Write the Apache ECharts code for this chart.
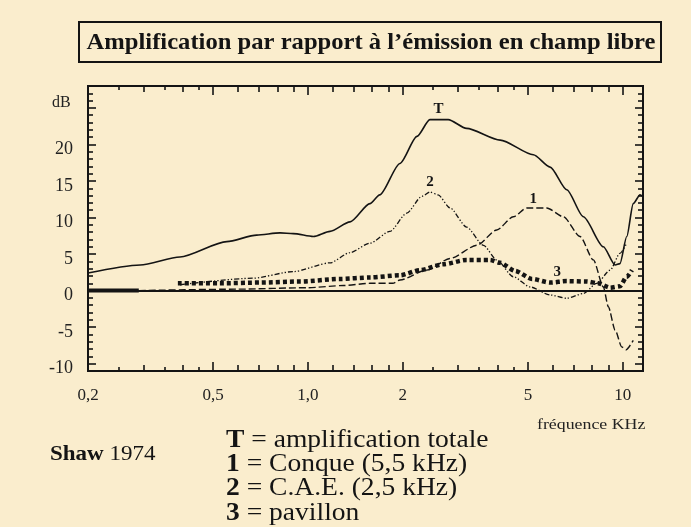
<!DOCTYPE html>
<html>
<head>
<meta charset="utf-8">
<script src="https://cdn.jsdelivr.net/npm/echarts@6/dist/echarts.min.js"></script>
<style>
  html, body { margin: 0; padding: 0; background: #faedcd; }
  #chart { width: 691px; height: 527px; }
</style>
</head>
<body>
<div id="chart"></div>
<script>
// Frequencies in kHz, gains in dB (Shaw 1974)
const freqT = [0.2, 0.293, 0.392, 0.552, 0.687, 0.815, 0.898, 1.04, 1.175, 1.36, 1.574, 1.69, 1.96, 2.22, 2.44, 2.79, 3.19, 4.08, 5.2, 5.88, 6.64, 7.5, 8.68, 9.46, 9.8, 10.3, 10.8, 11.35, 11.58];
const gainT = [2.4, 3.5, 4.6, 6.7, 7.6, 7.9, 7.8, 7.4, 8.1, 9.4, 11.9, 13.1, 17.4, 21.1, 23.4, 23.4, 22.2, 20.6, 18.6, 16.9, 13.8, 10.1, 6.0, 3.5, 3.7, 7.4, 11.9, 13.1, 12.9];

const freq1 = [0.29, 0.6, 1.0, 1.3, 1.574, 1.86, 1.96, 2.38, 2.83, 3.44, 3.98, 4.49, 4.95, 5.74, 6.48, 7.32, 8.07, 8.68, 9.0, 9.46, 9.93, 10.25, 10.8];
const gain1 = [0, 0.2, 0.4, 0.7, 1.0, 1.0, 1.45, 2.8, 4.4, 6.2, 8.3, 10.1, 11.3, 11.3, 10.1, 7.4, 4.2, 0.5, -2.2, -5.4, -7.7, -8.1, -6.8];

// low-frequency stretch lying on the 0 dB line
const freqLow = [0.2, 0.29];
const gainLow = [0, 0];

const freq2 = [0.392, 0.669, 0.896, 1.175, 1.36, 1.574, 1.82, 2.06, 2.30, 2.44, 2.59, 2.83, 3.19, 3.61, 3.98, 4.49, 5.08, 5.88, 6.64, 7.5, 8.27, 9.12, 9.8, 10.3];
const gain2 = [0.8, 1.7, 2.6, 3.8, 5.2, 6.5, 8.1, 10.6, 12.9, 13.5, 13.1, 11.3, 8.7, 6.2, 4.2, 1.9, 0.5, -0.6, -1.05, -0.4, 1.0, 2.8, 5.1, 6.5];

const freq3 = [0.386, 0.525, 0.704, 0.944, 1.264, 1.574, 1.96, 2.27, 2.69, 3.19, 3.79, 4.08, 4.55, 5.15, 5.88, 6.64, 7.69, 8.35, 9.12, 9.8, 10.3, 10.7];
const gain3 = [1.0, 1.0, 1.1, 1.25, 1.6, 1.8, 2.1, 2.8, 3.6, 4.2, 4.2, 3.8, 2.7, 1.6, 1.1, 1.3, 1.25, 1.0, 0.4, 0.6, 1.9, 2.8];

// Axis ticks and labels
const xLabelValues = [0.2, 0.5, 1, 2, 5, 10];
const xMajorTicks = [0.5, 1, 2, 5, 10];
const xMidTicks = [0.3, 0.4, 0.6, 0.7, 0.8, 0.9, 1.2, 1.4, 1.6, 1.8, 3, 4, 6, 7, 8, 9];
const xMinorTicks = [0.25, 0.35, 0.45, 2.5, 3.5, 4.5];
const yLabelValues = [-10, -5, 0, 5, 10, 15, 20];
const yMajorTicks = [-10, -5, 0, 5, 10, 15, 20, 25];
const yMinorTicks = [];
for (let v = -10; v <= 27; v++) if (v % 5 !== 0) yMinorTicks.push(v);

const X_MIN = 0.2, X_MAX = 11.6, Y_MIN = -11, Y_MAX = 28;
const INK = '#141414';
const SERIF = '"Liberation Serif", "DejaVu Serif", serif';

const pairs = (xs, ys) => xs.map((x, i) => [x, ys[i]]);

function xAxisDef(position, ticks, len, withLabels) {
  return {
    type: 'log', logBase: 10, min: X_MIN, max: X_MAX, position,
    axisLine: { show: true, onZero: false, lineStyle: { color: INK, width: 2 } },
    axisTick: { show: true, inside: true, length: len, customValues: ticks,
                lineStyle: { color: INK, width: 1.6 } },
    axisLabel: withLabels ? {
      show: true, customValues: xLabelValues, margin: 16,
      fontFamily: SERIF, fontSize: 17, color: '#222',
      formatter: v => (v === 1 ? '1,0' : String(v).replace('.', ','))
    } : { show: false },
    splitLine: { show: false }, minorTick: { show: false }
  };
}

function yAxisDef(position, ticks, len, withLabels) {
  return {
    type: 'value', min: Y_MIN, max: Y_MAX, position,
    axisLine: { show: true, onZero: false, lineStyle: { color: INK, width: 2 } },
    axisTick: { show: true, inside: true, length: len, customValues: ticks,
                lineStyle: { color: INK, width: 1.6 } },
    axisLabel: withLabels ? {
      show: true, customValues: yLabelValues, margin: 15,
      formatter: v => '{n|' + v + '}',
      rich: { n: { fontFamily: SERIF, fontSize: 18, color: '#222', padding: [10, 0, 0, 0] } }
    } : { show: false },
    splitLine: { show: false }
  };
}

function curveLabel(text, coord, dy) {
  return {
    silent: true,
    data: [{ coord, symbol: 'circle', symbolSize: 2,
             itemStyle: { color: 'rgba(0,0,0,0)' },
             label: { show: true, position: 'inside', formatter: text, offset: [0, dy],
                      fontFamily: SERIF, fontWeight: 'bold', fontSize: 15, color: INK } }]
  };
}

// text stretched horizontally from its left anchor point
function wideText(x, y, text, size, stretch, extra) {
  return {
    type: 'text', x, y, scaleX: stretch,
    style: Object.assign({
      text, font: size + 'px ' + SERIF, fill: INK, verticalAlign: 'middle',
      rich: { b: { fontWeight: 'bold', fontSize: size, fontFamily: SERIF } }
    }, extra || {})
  };
}

const chart = echarts.init(document.getElementById('chart'), null, { renderer: 'canvas' });

chart.setOption({
  backgroundColor: '#faedcd',
  animation: false,
  grid: { left: 88, top: 86, width: 555, height: 285, containLabel: false },
  xAxis: [
    xAxisDef('bottom', xMajorTicks, 9, true),
    xAxisDef('bottom', xMidTicks, 6, false),
    xAxisDef('bottom', xMinorTicks, 4, false),
    xAxisDef('top', xMajorTicks, 9, false),
    xAxisDef('top', xMidTicks, 6, false),
    xAxisDef('top', xMinorTicks, 4, false)
  ],
  yAxis: [
    yAxisDef('left', yMajorTicks, 8, true),
    yAxisDef('left', yMinorTicks, 5, false),
    yAxisDef('right', yMajorTicks, 8, false),
    yAxisDef('right', yMinorTicks, 5, false)
  ],
  series: [
    {
      name: 'T', type: 'line', data: pairs(freqT, gainT),
      showSymbol: false, smooth: 0.25, smoothMonotone: 'x',
      lineStyle: { color: INK, width: 1.6 },
      markLine: {
        silent: true, symbol: 'none', label: { show: false },
        lineStyle: { color: INK, width: 2, type: 'solid' },
        data: [{ yAxis: 0 }]
      },
      markPoint: curveLabel('T', [2.6, 23.4], -10)
    },
    {
      name: '1', type: 'line', data: pairs(freq1, gain1),
      showSymbol: false, smooth: 0.25, smoothMonotone: 'x',
      lineStyle: { color: INK, width: 1.4, type: [7, 3] },
      markPoint: curveLabel('1', [5.2, 11.3], -9)
    },
    {
      name: '1 (basses fréquences)', type: 'line', data: pairs(freqLow, gainLow),
      showSymbol: false, lineStyle: { color: INK, width: 4 }
    },
    {
      name: '2', type: 'line', data: pairs(freq2, gain2),
      showSymbol: false, smooth: 0.25, smoothMonotone: 'x',
      lineStyle: { color: INK, width: 1.3, type: [5, 2, 1.3, 2, 1.3, 2] },
      markPoint: curveLabel('2', [2.44, 13.5], -10)
    },
    {
      name: '3', type: 'line', data: pairs(freq3, gain3),
      showSymbol: false, smooth: 0.25, smoothMonotone: 'x',
      lineStyle: { color: INK, width: 4.5, type: [4, 3], cap: 'butt' },
      markPoint: curveLabel('3', [6.2, 1.2], -10)
    }
  ],
  graphic: [
    { type: 'rect', shape: { x: 79, y: 22, width: 582, height: 40 },
      style: { fill: 'none', stroke: INK, lineWidth: 2 }, silent: true },
    { type: 'text', x: 371, y: 43, scaleX: 1.07,
      style: { text: 'Amplification par rapport à l’émission en champ libre',
               font: 'bold 23px ' + SERIF, fill: INK, align: 'center', verticalAlign: 'middle' } },
    { type: 'text', x: 52, y: 103,
      style: { text: 'dB', font: '16px ' + SERIF, fill: '#222', align: 'left', verticalAlign: 'middle' } },
    wideText(537, 425, 'fréquence KHz', 15.5, 1.15, { fill: '#222' }),
    wideText(50, 455, '{b|Shaw} 1974', 20, 1.15),
    wideText(226, 440, '{b|T} = amplification totale', 25.5, 1.08),
    wideText(226, 464, '{b|1} = Conque (5,5 kHz)', 25.5, 1.08),
    wideText(226, 488, '{b|2} = C.A.E. (2,5 kHz)', 25.5, 1.08),
    wideText(226, 513, '{b|3} = pavillon', 25.5, 1.08)
  ]
});
</script>
</body>
</html>
